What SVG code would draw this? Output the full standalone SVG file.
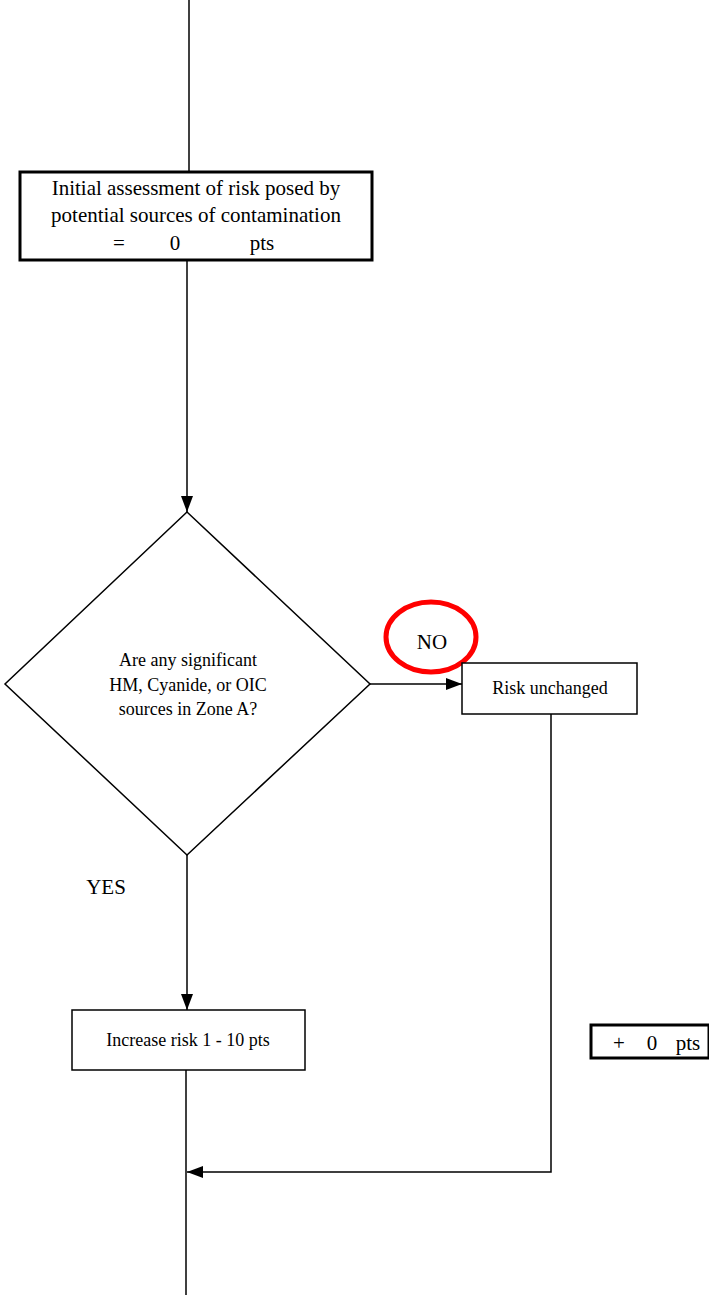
<svg xmlns="http://www.w3.org/2000/svg" width="709" height="1299" viewBox="0 0 709 1299">
<defs>
<style>
.t{font-family:"Liberation Serif","Times New Roman",serif;fill:#000;text-anchor:middle}
.b{font-size:21px}
.s{font-size:18px}
.ln{stroke:#000;stroke-width:1.5;fill:none}
.bx{fill:#fff;stroke:#000}
</style>
<marker id="ah2" viewBox="0 0 16 12" refX="16" refY="6" markerWidth="16" markerHeight="12" markerUnits="userSpaceOnUse" orient="auto"><path d="M0,0 L16,6 L0,12 z" fill="#000"/></marker>
</defs>
<g id="connectors">
<line class="ln" x1="189" y1="0" x2="189" y2="172"/>
<line class="ln" x1="187" y1="260" x2="187" y2="512" marker-end="url(#ah2)"/>
<line class="ln" x1="370" y1="684" x2="462" y2="684" marker-end="url(#ah2)"/>
<line class="ln" x1="187" y1="855" x2="187" y2="1010" marker-end="url(#ah2)"/>
<polyline class="ln" points="551,714 551,1172 187,1172" marker-end="url(#ah2)"/>
<line class="ln" x1="186" y1="1070" x2="186" y2="1295"/>
</g>
<g id="initial">
<rect class="bx" x="20" y="172" width="352" height="88" stroke-width="3"/>
<text class="t b" x="196" y="195">Initial assessment of risk posed by</text>
<text class="t b" x="196" y="222">potential sources of contamination</text>
<text class="t b" x="119" y="250">=</text>
<text class="t b" x="175" y="250">0</text>
<text class="t b" x="262" y="250">pts</text>
</g>
<g id="decision">
<polygon class="bx" points="187,512 370,684 187,855 5,684" stroke-width="1.5"/>
<text class="t s" x="188" y="666">Are any significant</text>
<text class="t s" x="188" y="691">HM, Cyanide, or OIC</text>
<text class="t s" x="188" y="715">sources in Zone A?</text>
</g>
<g id="no-label">
<ellipse cx="431" cy="637" rx="45" ry="35" fill="none" stroke="#ff0000" stroke-width="5"/>
<text class="t b" x="432" y="649">NO</text>
</g>
<g id="unchanged">
<rect class="bx" x="462" y="663" width="175" height="51" stroke-width="1.5"/>
<text class="t s" x="550" y="694">Risk unchanged</text>
</g>
<g id="yes-label">
<text class="t b" x="106" y="894">YES</text>
</g>
<g id="increase">
<rect class="bx" x="72" y="1010" width="233" height="60" stroke-width="1.5"/>
<text class="t s" x="188" y="1046">Increase risk 1 - 10 pts</text>
</g>
<g id="plus-zero">
<rect class="bx" x="591" y="1025" width="118" height="33" stroke-width="3"/>
<text class="t b" x="619" y="1050">+</text>
<text class="t b" x="652" y="1050">0</text>
<text class="t b" x="688" y="1050">pts</text>
</g>
</svg>
